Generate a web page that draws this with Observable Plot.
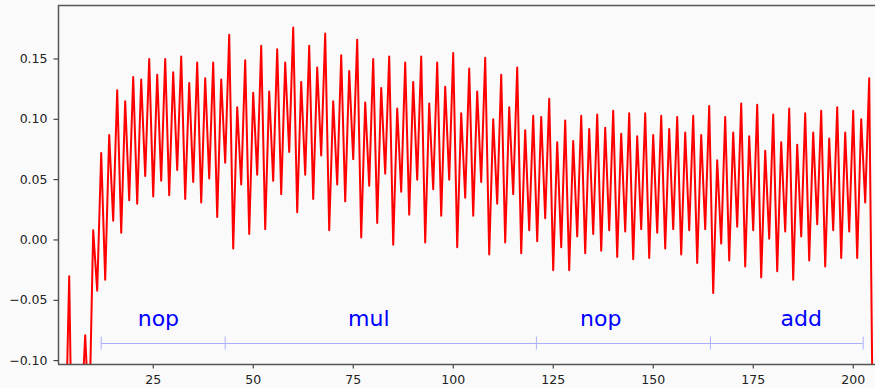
<!DOCTYPE html>
<html>
<head>
<meta charset="utf-8">
<script src="https://cdn.jsdelivr.net/npm/d3@7"></script>
<script src="https://cdn.jsdelivr.net/npm/@observablehq/plot@0.6"></script>
<style>
  html, body { margin: 0; padding: 0; background: #fafafa; }
  #chart svg { display: block; }
</style>
</head>
<body>
<div id="chart"></div>
<script>
// Series: values at steps 1..205
const values = [
  -0.35, -0.30, -0.18, -0.030, -0.25, -0.20, -0.148, -0.079, -0.152, 0.008,
  -0.042, 0.072, -0.033, 0.087, 0.016, 0.124, 0.006, 0.115, 0.033, 0.135,
  0.030, 0.133, 0.053, 0.150, 0.036, 0.137, 0.049, 0.150, 0.037, 0.139,
  0.058, 0.152, 0.034, 0.130, 0.048, 0.147, 0.031, 0.134, 0.051, 0.147,
  0.019, 0.133, 0.064, 0.170, -0.007, 0.110, 0.046, 0.149, 0.005, 0.122,
  0.054, 0.161, 0.009, 0.123, 0.049, 0.158, 0.038, 0.147, 0.073, 0.176,
  0.023, 0.131, 0.054, 0.161, 0.034, 0.143, 0.070, 0.171, 0.008, 0.115,
  0.046, 0.153, 0.032, 0.140, 0.067, 0.166, 0.002, 0.114, 0.045, 0.150,
  0.014, 0.126, 0.055, 0.152, -0.004, 0.109, 0.040, 0.147, 0.021, 0.131,
  0.050, 0.152, -0.002, 0.113, 0.042, 0.147, 0.020, 0.127, 0.050, 0.155,
  -0.006, 0.105, 0.035, 0.142, 0.020, 0.123, 0.048, 0.151, -0.012, 0.100,
  0.030, 0.137, -0.002, 0.110, 0.038, 0.143, -0.011, 0.091, 0.008, 0.103,
  -0.001, 0.102, 0.018, 0.117, -0.025, 0.081, -0.006, 0.099, -0.025, 0.082,
  0.003, 0.103, -0.011, 0.092, 0.005, 0.104, -0.009, 0.093, 0.008, 0.107,
  -0.014, 0.088, 0.007, 0.105, -0.016, 0.086, 0.009, 0.105, -0.015, 0.087,
  0.006, 0.103, -0.007, 0.092, 0.009, 0.102, -0.012, 0.089, 0.008, 0.103,
  -0.019, 0.087, 0.009, 0.111, -0.044, 0.066, -0.003, 0.102, -0.017, 0.089,
  0.011, 0.113, -0.022, 0.086, 0.008, 0.112, -0.031, 0.074, 0.001, 0.104,
  -0.026, 0.081, 0.007, 0.109, -0.033, 0.079, 0.003, 0.105, -0.017, 0.089,
  0.013, 0.107, -0.022, 0.084, 0.008, 0.110, -0.015, 0.089, 0.007, 0.107,
  -0.015, 0.100, 0.031, 0.134, -0.19
];
const steps = values.map((_, i) => i + 1);

// Axis ticks
const xTicks = [25, 50, 75, 100, 125, 150, 175, 200];
const yTicks = [-0.10, -0.05, 0.00, 0.05, 0.10, 0.15];

// Annotation: phase labels and their boundaries
const phaseLabels = ["nop", "mul", "nop", "add"];
const phaseLabelX = [26.3, 78.9, 136.9, 187.0];
const phaseLabelY = -0.0656;
const boundaries = [12, 43, 120.8, 164.3, 202.5];
const bracketY = -0.0858;
const capHalf = 0.0054;

const xDomain = [1.325, 205.575];
const yDomain = [-0.1032, 0.1943];

const series = steps.map((s, i) => ({ step: s, value: values[i] }));
const labels = phaseLabels.map((t, i) => ({ text: t, x: phaseLabelX[i], y: phaseLabelY }));
const caps = boundaries.map(b => ({ x: b, y1: bracketY - capHalf, y2: bracketY + capHalf }));

const fmt = d => d.toFixed(2).replace("-", "\u2212");

const chart = Plot.plot({
  width: 875,
  height: 388,
  marginLeft: 58,
  marginRight: 0,
  marginTop: 5,
  marginBottom: 24,
  style: { background: "#fafafa", fontFamily: "DejaVu Sans", fontSize: "12.5px", color: "#222" },
  x: { domain: xDomain, ticks: xTicks, tickSize: 4.5, tickPadding: 6, label: null, tickFormat: d => String(d) },
  y: { domain: yDomain, ticks: yTicks, tickSize: 4.5, tickPadding: 6.5, label: null, tickFormat: fmt },
  marks: [
    Plot.lineY(series, { x: "step", y: "value", stroke: "red", strokeWidth: 2, clip: true }),
    Plot.ruleY([bracketY], { x1: boundaries[0], x2: boundaries[boundaries.length - 1], stroke: "#aab0ff", strokeWidth: 1 }),
    Plot.ruleX(caps, { x: "x", y1: "y1", y2: "y2", stroke: "#aab0ff", strokeWidth: 1 }),
    Plot.text(labels, { x: "x", y: "y", text: "text", fill: "#0000ff", fontSize: 22, fontFamily: "DejaVu Sans", textAnchor: "middle" }),
    Plot.ruleY([yDomain[0], yDomain[1]], { stroke: "#555", strokeWidth: 1.5 }),
    Plot.ruleX([xDomain[0]], { stroke: "#555", strokeWidth: 1.5 })
  ]
});
document.getElementById("chart").appendChild(chart);
</script>
</body>
</html>
